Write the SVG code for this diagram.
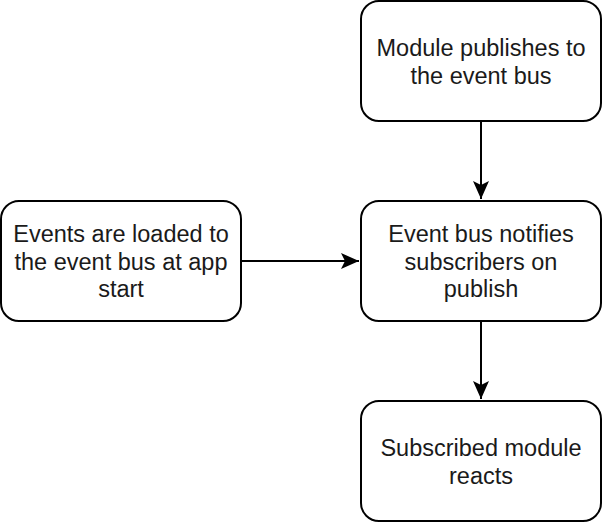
<svg xmlns="http://www.w3.org/2000/svg" width="602" height="522" viewBox="0 0 602 522">
<style>
.box{fill:#fff;stroke:#000;stroke-width:2}
.lbl{font-family:"Liberation Sans",Arial,Helvetica,sans-serif;font-size:23.5px;fill:#1a1a1a;text-anchor:middle}
.edge{stroke:#000;stroke-width:2;fill:none}
</style>
<defs>
<marker id="arr" markerUnits="userSpaceOnUse" markerWidth="20" markerHeight="16" refX="18" refY="8" orient="auto">
<path d="M0,0 L18,8 L0,16 L4,8 Z" fill="#000"/>
</marker>
</defs>
<rect width="602" height="522" fill="#fff"/>
<g id="connectors">
<path class="edge" d="M481,121 L481,199" marker-end="url(#arr)"/>
<path class="edge" d="M481,321 L481,399" marker-end="url(#arr)"/>
<path class="edge" d="M241,261 L359,261" marker-end="url(#arr)"/>
</g>
<g id="node-publish">
<rect class="box" x="361" y="1" width="240" height="120" rx="18" ry="18"/>
<text class="lbl" x="481" y="56">Module publishes to</text>
<text class="lbl" x="481" y="83.5">the event bus</text>
</g>
<g id="node-load">
<rect class="box" x="1" y="201" width="240" height="120" rx="18" ry="18"/>
<text class="lbl" x="121" y="242">Events are loaded to</text>
<text class="lbl" x="121" y="269.5">the event bus at app</text>
<text class="lbl" x="121" y="297">start</text>
</g>
<g id="node-notify">
<rect class="box" x="361" y="201" width="240" height="120" rx="18" ry="18"/>
<text class="lbl" x="481" y="242">Event bus notifies</text>
<text class="lbl" x="481" y="269.5">subscribers on</text>
<text class="lbl" x="481" y="297">publish</text>
</g>
<g id="node-react">
<rect class="box" x="361" y="401" width="240" height="120" rx="18" ry="18"/>
<text class="lbl" x="481" y="456">Subscribed module</text>
<text class="lbl" x="481" y="483.5">reacts</text>
</g>
</svg>
